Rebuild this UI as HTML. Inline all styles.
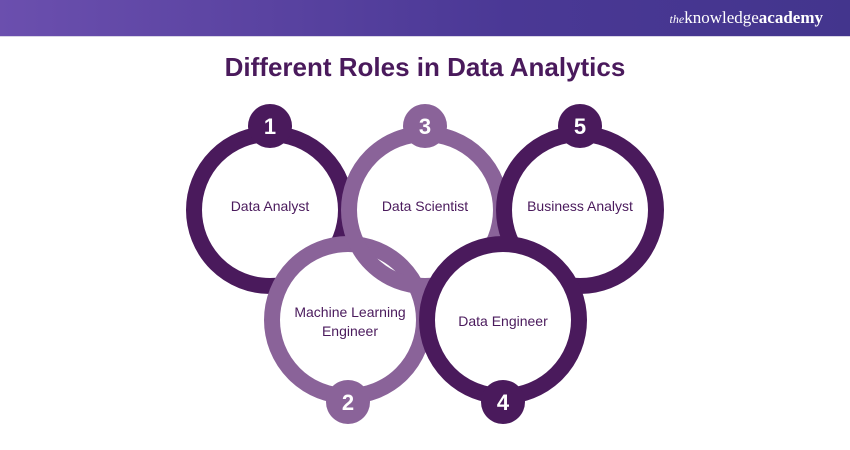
<!DOCTYPE html>
<html><head><meta charset="utf-8"><style>
body{margin:0;width:850px;height:450px;background:#fff;overflow:hidden;font-family:"Liberation Sans",sans-serif}
.hdr{position:absolute;left:0;top:0;width:850px;height:36px;background:linear-gradient(90deg,#6b4fae,#4a3895 60%,#43358d);border-bottom:1px solid #d8d4e6}
.logo{position:absolute;right:27px;top:8px;color:#fff;font-family:"Liberation Serif",serif;font-size:17px}
h1{position:absolute;top:52px;left:0;width:850px;margin:0;text-align:center;font-size:26px;color:#4a1a5c;font-weight:bold}
</style></head><body>
<div class="hdr"><div class="logo"><i style="font-size:12px">the</i>knowledge<b>academy</b></div></div>
<h1>Different Roles in Data Analytics</h1>
<svg width="850" height="450" style="position:absolute;left:0;top:0" font-family="Liberation Sans, sans-serif">
<g stroke-width="16">
<circle cx="270" cy="210" r="76" stroke="#4a1a5c" fill="#fff"/>
<circle cx="348" cy="320" r="76" stroke="#8a6399" fill="#fff"/>
<circle cx="425" cy="210" r="76" stroke="#8a6399" fill="none"/>
<circle cx="580" cy="210" r="76" stroke="#4a1a5c" fill="#fff"/>
<circle cx="503" cy="320" r="76" stroke="#4a1a5c" fill="#fff"/>
</g>
<g font-weight="bold" font-size="22" fill="#fff" text-anchor="middle">
<circle cx="270" cy="126" r="22" fill="#4a1a5c"/><text x="270" y="134">1</text>
<circle cx="425" cy="126" r="22" fill="#8a6399"/><text x="425" y="134">3</text>
<circle cx="580" cy="126" r="22" fill="#4a1a5c"/><text x="580" y="134">5</text>
<circle cx="348" cy="402" r="22" fill="#8a6399"/><text x="348" y="410">2</text>
<circle cx="503" cy="402" r="22" fill="#4a1a5c"/><text x="503" y="410">4</text>
</g>
<g font-size="14" fill="#4a1a5c" text-anchor="middle">
<text x="270" y="211">Data Analyst</text>
<text x="425" y="211">Data Scientist</text>
<text x="580" y="211">Business Analyst</text>
<text x="350" y="317">Machine Learning</text>
<text x="350" y="336">Engineer</text>
<text x="503" y="326">Data Engineer</text>
</g>
</svg>
</body></html>
